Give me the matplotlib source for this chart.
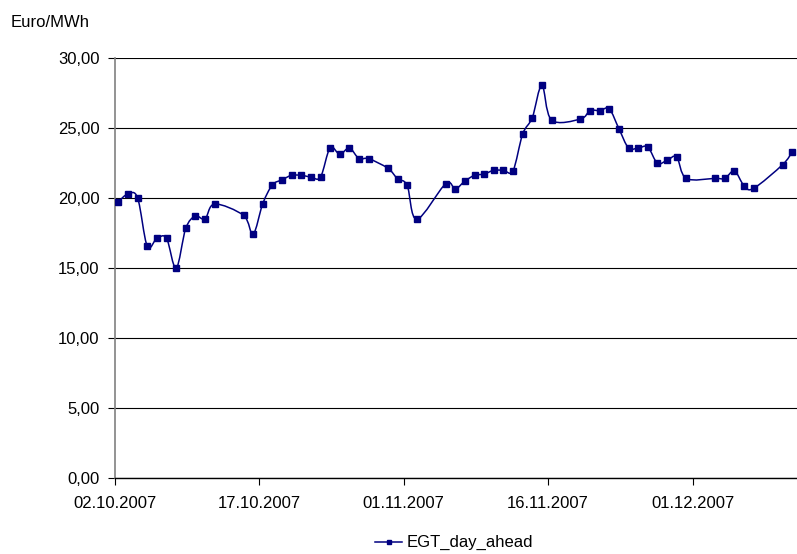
import numpy as np
import matplotlib
matplotlib.use("Agg")
import matplotlib.pyplot as plt
from matplotlib.path import Path
from matplotlib.patches import PathPatch
from matplotlib.lines import Line2D

plt.rcParams['font.family'] = ['Liberation Sans', 'DejaVu Sans']

# days after 02.10.2007 and price in Euro/MWh
days = [0, 1, 2, 3, 4, 5, 6, 7, 8, 9, 10, 13, 14, 15, 16, 17, 18, 19, 20, 21,
        22, 23, 24, 25, 26, 28, 29, 30, 31, 34, 35, 36, 37, 38, 39, 40, 41,
        42, 43, 44, 45, 48, 49, 50, 51, 52, 53, 54, 55, 56, 57, 58, 59, 62,
        63, 64, 65, 66, 69, 70]
price = [19.74, 20.29, 20.00, 16.55, 17.12, 17.12, 14.98, 17.83, 18.71, 18.50,
         19.57, 18.76, 17.43, 19.60, 20.93, 21.30, 21.62, 21.62, 21.50, 21.50,
         23.59, 23.12, 23.57, 22.81, 22.81, 22.12, 21.38, 20.90, 18.48, 21.02,
         20.65, 21.21, 21.62, 21.71, 21.98, 21.98, 21.95, 24.57, 25.74, 28.05,
         25.57, 25.64, 26.24, 26.24, 26.36, 24.95, 23.57, 23.57, 23.64, 22.48,
         22.69, 22.93, 21.40, 21.40, 21.40, 21.93, 20.88, 20.69, 22.38, 23.29]
tick_days = [0, 15, 30, 45, 60]
tick_labels = ['02.10.2007', '17.10.2007', '01.11.2007', '16.11.2007', '01.12.2007']
y_ticks = [0, 5, 10, 15, 20, 25, 30]

x = np.array(days) + 0.35
y = np.array(price)

fig = plt.figure(figsize=(7.97, 5.54), dpi=100)
ax = fig.add_axes([0.1443, 0.1372, 0.8557, 0.7581])

# smoothed line like excel (catmull-rom as bezier)
pts = np.column_stack([x, y])
padded = np.vstack([pts[0], pts, pts[-1]])
verts = [tuple(pts[0])]
codes = [Path.MOVETO]
for i in range(1, len(padded) - 2):
    p0, p1, p2, p3 = padded[i - 1], padded[i], padded[i + 1], padded[i + 2]
    c1 = p1 + (p2 - p0) / 6
    c2 = p2 - (p3 - p1) / 6
    verts += [tuple(c1), tuple(c2), tuple(p2)]
    codes += [Path.CURVE4] * 3
ax.add_patch(PathPatch(Path(verts, codes), fill=False, edgecolor='#000080',
                       lw=1.1, zorder=3))
ax.plot(x, y, ls='none', marker='s', ms=4, color='#000080', zorder=4)

ax.set_xlim(0, 70.85)
ax.set_ylim(0, 30)
ax.set_yticks(y_ticks)
ax.set_yticklabels(['%.2f' % v for v in y_ticks])
ax.set_yticklabels([('%.2f' % v).replace('.', ',') for v in y_ticks])
ax.set_xticks(tick_days)
ax.set_xticklabels(tick_labels)
ax.yaxis.grid(True, color='black', lw=0.8)
ax.set_axisbelow(True)
for s in ['top', 'right']:
    ax.spines[s].set_visible(False)
ax.spines['left'].set_color('#808080')
ax.spines['left'].set_linewidth(1.2)
ax.spines['bottom'].set_linewidth(1.0)
ax.tick_params(axis='both', direction='out', length=5, labelsize=12, width=0.8)
ax.tick_params(axis='y', pad=6)
ax.tick_params(axis='x', pad=8)

fig.text(0.013, 0.96, 'Euro/MWh', fontsize=12, va='center', ha='left')

handle = Line2D([], [], color='#000080', lw=1.1, marker='s', ms=3)
fig.legend([handle], ['EGT_day_ahead'], loc='center', bbox_to_anchor=(0.57, 0.02),
           frameon=False, fontsize=12, handlelength=1.6, handletextpad=0.3)

fig.savefig('out.png', dpi=100)
